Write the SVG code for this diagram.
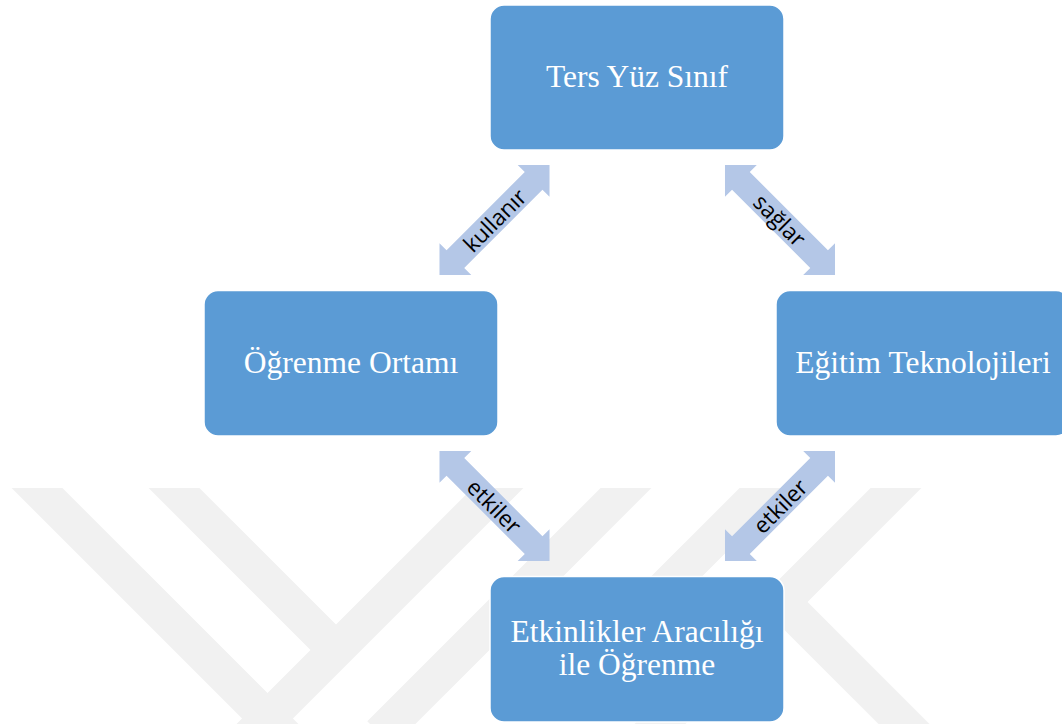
<svg xmlns="http://www.w3.org/2000/svg" width="1062" height="724" viewBox="0 0 1062 724">
  <defs>
    <style>
      .node rect { fill: #5B9BD5; stroke: #FFFFFF; stroke-width: 1.5; }
      .node text { fill: #FFFFFF; font-family: "Liberation Serif", "Times New Roman", serif; font-size: 31.5px; text-anchor: middle; }
      .arrow use { fill: #B4C7E7; }
      .arrow text { fill: #000000; font-family: "Open Sans", "Liberation Sans", sans-serif; font-size: 22.5px; text-anchor: middle; dominant-baseline: central; }
      .wm line { stroke: #F1F1F1; stroke-width: 36; stroke-linecap: butt; }
    </style>
    <clipPath id="wmClip">
      <rect x="0" y="488" width="1062" height="236"/>
    </clipPath>
    <!-- double-headed block arrow, drawn along +x, centred on the origin (tip to tip 155.6) -->
    <path id="dblArrow" d="M-77.8,0 L-55.3,-22.5 L-55.3,-12.5 L55.3,-12.5 L55.3,-22.5 L77.8,0 L55.3,22.5 L55.3,12.5 L-55.3,12.5 L-55.3,22.5 Z"/>
  </defs>

  <rect x="0" y="0" width="1062" height="724" fill="#FFFFFF"/>

  <!-- faint background emblem -->
  <g id="watermark" class="wm" clip-path="url(#wmClip)">
    <line x1="20" y1="471" x2="300" y2="751"/>
    <line x1="157" y1="471" x2="345" y2="659"/>
    <line x1="515" y1="471" x2="240" y2="746"/>
    <line x1="643" y1="471" x2="380" y2="734"/>
    <line x1="913" y1="471" x2="640" y2="744"/>
    <line x1="782" y1="471" x2="640" y2="613"/>
    <line x1="790" y1="610" x2="920" y2="740"/>
  </g>

  <!-- connectors -->
  <g id="connectors">
    <g class="arrow" id="conn-kullanir" transform="translate(494.5,220) rotate(-45)">
      <use href="#dblArrow"/>
      <text x="0" y="0">kullanır</text>
    </g>
    <g class="arrow" id="conn-saglar" transform="translate(780,220) rotate(45)">
      <use href="#dblArrow"/>
      <text x="0" y="0">sağlar</text>
    </g>
    <g class="arrow" id="conn-etkiler-left" transform="translate(494.5,506) rotate(45)">
      <use href="#dblArrow"/>
      <text x="0" y="0">etkiler</text>
    </g>
    <g class="arrow" id="conn-etkiler-right" transform="translate(780,506) rotate(-45)">
      <use href="#dblArrow"/>
      <text x="0" y="0">etkiler</text>
    </g>
  </g>

  <!-- nodes -->
  <g id="node-ters-yuz-sinif" class="node">
    <rect x="490" y="5" width="294" height="145" rx="14"/>
    <text x="637" y="87">Ters Yüz Sınıf</text>
  </g>
  <g id="node-ogrenme-ortami" class="node">
    <rect x="204" y="290.5" width="294" height="145.5" rx="14"/>
    <text x="351" y="373">Öğrenme Ortamı</text>
  </g>
  <g id="node-egitim-teknolojileri" class="node">
    <rect x="776" y="290.5" width="294" height="145.5" rx="14"/>
    <text x="923" y="373">Eğitim Teknolojileri</text>
  </g>
  <g id="node-etkinlikler" class="node">
    <rect x="490" y="576.5" width="294" height="145.5" rx="14"/>
    <text x="637" y="642">Etkinlikler Aracılığı</text>
    <text x="637" y="675">ile Öğrenme</text>
  </g>
</svg>
